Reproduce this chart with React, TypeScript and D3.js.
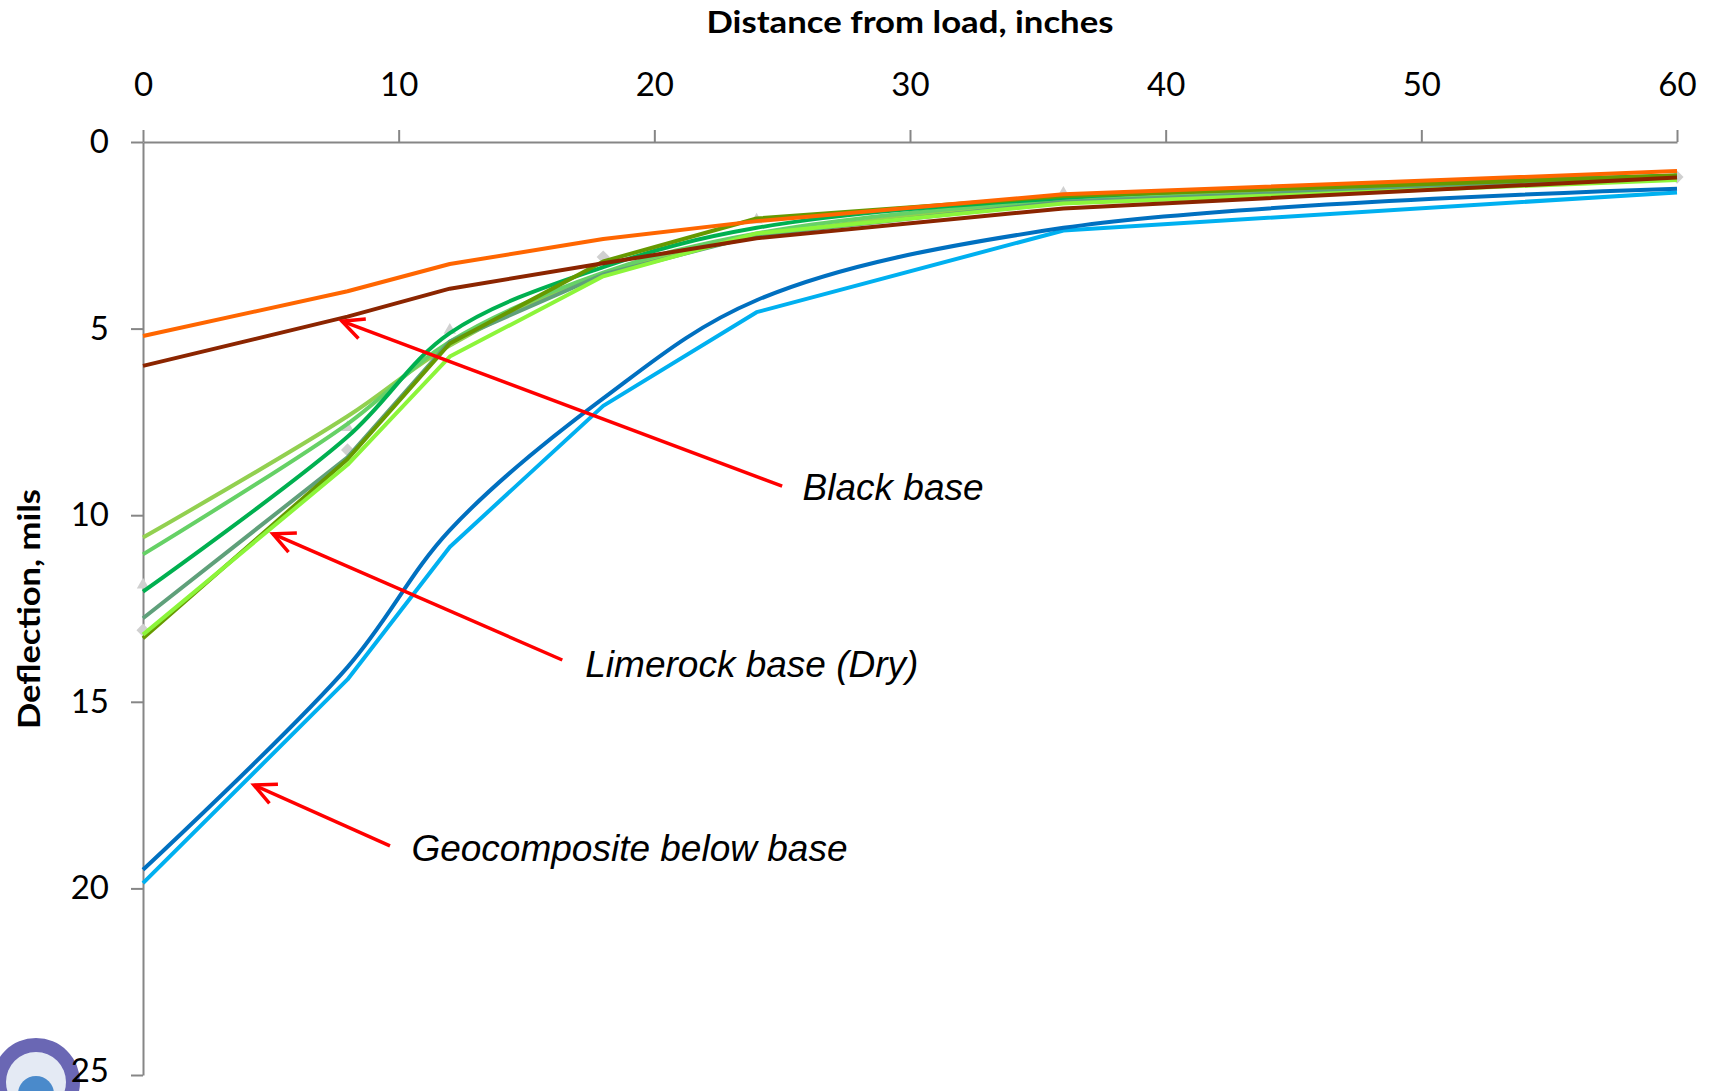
import { useEffect, useRef } from "react";
import * as d3 from "d3";

// FWD sensor offsets, inches
const offsets = [0, 8, 12, 18, 24, 36, 60];

// deflection basins, mils
const blackOrange = [5.2, 4.0, 3.27, 2.6, 2.12, 1.4, 0.78];
const blackBrown = [6.0, 4.68, 3.93, 3.25, 2.58, 1.78, 0.95];
const geoDark = [19.5, 14.07, 10.4, 6.87, 4.24, 2.3, 1.25];
const geoLight = [19.86, 14.4, 10.85, 7.07, 4.56, 2.37, 1.35];
const limeOlive = [10.6, 7.35, 5.45, 3.55, 2.55, 1.6, 0.95];
const limeLight = [11.05, 7.55, 5.35, 3.5, 2.45, 1.55, 0.95];
const limeGreen = [12.05, 7.9, 5.12, 3.35, 2.3, 1.5, 0.9];
const limeGray = [12.76, 8.45, 5.35, 3.55, 2.5, 1.6, 0.95];
const limeDark = [13.3, 8.5, 5.4, 3.2, 2.05, 1.45, 0.9];
const limeBright = [13.2, 8.65, 5.75, 3.6, 2.45, 1.65, 1.02];

// grey marker-only points peeking out under the lines
const diamondX = [0, 8, 18, 60];
const diamondY = [13.08, 8.25, 3.08, 0.94];
const triangleX = [0, 8, 12, 24, 36];
const triangleY = [11.87, 7.65, 5.04, 2.09, 1.37];

const xTicks = [0, 10, 20, 30, 40, 50, 60];
const yTicks = [0, 5, 10, 15, 20, 25];

const series = [
  { values: geoLight, color: "#00B0F0", smooth: false },
  { values: geoDark, color: "#0070C0", smooth: true },
  { values: limeOlive, color: "#92D050", smooth: true },
  { values: limeLight, color: "#66D166", smooth: true },
  { values: limeGreen, color: "#00B050", smooth: true },
  { values: limeGray, color: "#5FA07A", smooth: false },
  { values: limeDark, color: "#669900", smooth: false },
  { values: limeBright, color: "#8CF53A", smooth: false },
  { values: blackBrown, color: "#8B2500", smooth: false },
  { values: blackOrange, color: "#FF6600", smooth: false },
];

// annotation: label anchor, arrow tail, arrow tip (data units)
const notes = [
  { text: "Black base", tx: 25.8, ty: 9.58, x1: 25.0, y1: 9.22, x2: 7.78, y2: 4.8 },
  { text: "Limerock base (Dry)", tx: 17.3, ty: 14.34, x1: 16.4, y1: 13.88, x2: 5.08, y2: 10.5 },
  { text: "Geocomposite below base", tx: 10.5, ty: 19.27, x1: 9.66, y1: 18.86, x2: 4.34, y2: 17.23 },
];

const W = 1711;
const H = 1091;

export default function App() {
  const svgRef = useRef<SVGSVGElement | null>(null);

  useEffect(() => {
    const svg = d3.select(svgRef.current);
    svg.selectAll("*").remove();

    const x = d3.scaleLinear().domain([0, 60]).range([143, 1677]);
    const y = d3.scaleLinear().domain([0, 25]).range([142, 1075]);

    //////////////// seal in the corner (behind everything) ////////////////
    const seal = svg.append("g").attr("transform", "translate(36,1082)");
    seal.append("circle").attr("r", 44).attr("fill", "#6A67B4");
    seal.append("circle").attr("r", 30).attr("fill", "#E4EAF4");
    seal.append("circle").attr("r", 18).attr("cy", 12).attr("fill", "#4A8ACB");

    //////////////// axes ////////////////
    const xAxis = svg
      .append("g")
      .attr("transform", `translate(0,${y(0)})`)
      .call(d3.axisTop(x).tickValues(xTicks).tickSize(12).tickSizeOuter(0).tickPadding(34));
    const yAxis = svg
      .append("g")
      .attr("transform", `translate(${x(0)},0)`)
      .call(d3.axisLeft(y).tickValues(yTicks).tickSize(12).tickSizeOuter(0).tickPadding(22));

    [xAxis, yAxis].forEach((g) => {
      g.select(".domain").attr("stroke", "#868686").attr("stroke-width", 2);
      g.selectAll(".tick line").attr("stroke", "#868686").attr("stroke-width", 2);
      g.selectAll(".tick text")
        .attr("fill", "#000")
        .style("font-family", "Lato, 'Liberation Sans', sans-serif")
        .style("font-size", "33px");
    });
    // last label sits on the bottom edge; nudge it so it is not clipped
    yAxis
      .selectAll<SVGTextElement, number>(".tick text")
      .filter((d) => d === 25)
      .attr("dy", "0.2em");

    svg
      .append("text")
      .attr("x", 910)
      .attr("y", 33)
      .attr("text-anchor", "middle")
      .attr("textLength", 407)
      .attr("lengthAdjust", "spacingAndGlyphs")
      .style("font-family", "Lato, sans-serif")
      .style("font-weight", "bold")
      .style("font-size", "30px")
      .text("Distance from load, inches");

    svg
      .append("text")
      .attr("transform", `translate(40,609) rotate(-90)`)
      .attr("text-anchor", "middle")
      .attr("textLength", 240)
      .attr("lengthAdjust", "spacingAndGlyphs")
      .style("font-family", "Lato, sans-serif")
      .style("font-weight", "bold")
      .style("font-size", "30px")
      .text("Deflection, mils");

    //////////////// grey markers ////////////////
    svg
      .append("g")
      .selectAll("path")
      .data(diamondX.map((d, i) => [d, diamondY[i]]))
      .enter()
      .append("path")
      .attr("transform", (d) => `translate(${x(d[0])},${y(d[1])})`)
      .attr("d", d3.symbol().size(110).type(d3.symbolDiamond2)())
      .attr("fill", "#D0D0D0");
    svg
      .append("g")
      .selectAll("path")
      .data(triangleX.map((d, i) => [d, triangleY[i]]))
      .enter()
      .append("path")
      .attr("transform", (d) => `translate(${x(d[0])},${y(d[1])})`)
      .attr("d", d3.symbol().size(110).type(d3.symbolTriangle2)())
      .attr("fill", "#D0D0D0");

    //////////////// lines ////////////////
    series.forEach((s) => {
      const line = d3
        .line<number>()
        .x((d, i) => x(offsets[i]))
        .y((d) => y(d))
        .curve(s.smooth ? d3.curveCatmullRom : d3.curveLinear);
      svg
        .append("path")
        .attr("d", line(s.values))
        .attr("fill", "none")
        .attr("stroke", s.color)
        .attr("stroke-width", 4)
        .attr("stroke-linejoin", "round");
    });

    //////////////// annotations ////////////////
    notes.forEach((n) => {
      const ax1 = x(n.x1), ay1 = y(n.y1), ax2 = x(n.x2), ay2 = y(n.y2);
      const ang = Math.atan2(ay1 - ay2, ax1 - ax2);
      const hl = 24, ha = 0.45;
      svg
        .append("line")
        .attr("x1", ax1).attr("y1", ay1).attr("x2", ax2).attr("y2", ay2)
        .attr("stroke", "#FF0000").attr("stroke-width", 3.5);
      svg
        .append("path")
        .attr(
          "d",
          `M${ax2 + hl * Math.cos(ang - ha)},${ay2 + hl * Math.sin(ang - ha)}L${ax2},${ay2}L${ax2 + hl * Math.cos(ang + ha)},${ay2 + hl * Math.sin(ang + ha)}`
        )
        .attr("fill", "none")
        .attr("stroke", "#FF0000")
        .attr("stroke-width", 3.5);
      svg
        .append("text")
        .attr("x", x(n.tx))
        .attr("y", y(n.ty))
        .style("font-family", "'Liberation Sans', Arial, sans-serif")
        .style("font-style", "italic")
        .style("font-size", "37px")
        .text(n.text);
    });
  }, []);

  return (
    <svg
      ref={svgRef}
      width={W}
      height={H}
      style={{ position: "absolute", left: 0, top: 0, background: "#fff" }}
    ></svg>
  );
}
